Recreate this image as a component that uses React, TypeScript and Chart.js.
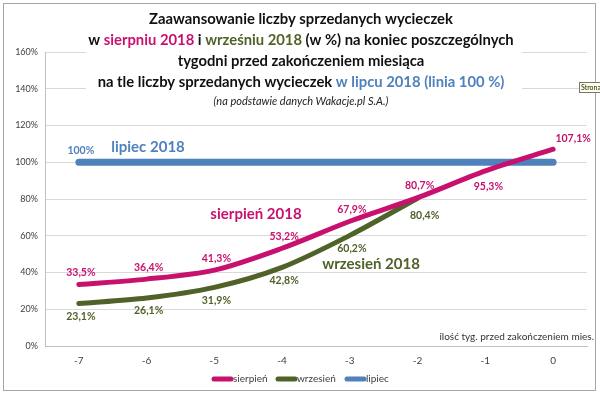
import React, { useEffect, useRef } from "react";
import { Chart, registerables } from "chart.js";

Chart.register(...registerables);

const weeks = ["-7", "-6", "-5", "-4", "-3", "-2", "-1", "0"];
const sierpien = [33.5, 36.4, 41.3, 53.2, 67.9, 80.7, 95.3, 107.1];
const wrzesien = [23.1, 26.1, 31.9, 42.8, 60.2, 80.4, null, null];
const lipiec = [100, 100, 100, 100, 100, 100, 100, 100];
const yTicks = [0, 20, 40, 60, 80, 100, 120, 140, 160];

const MAGENTA = "#C8116F";
const GREEN = "#4F6228";
const BLUE = "#4F81BD";
const FONT = "Lato, 'Open Sans', sans-serif";

const fmt = (v: number) => v.toFixed(1).replace(".", ",") + "%";

const overlay = {
  id: "overlay",
  beforeDraw(chart: any) {
    const ctx = chart.ctx;
    ctx.save();
    ctx.fillStyle = "#fff";
    ctx.fillRect(0, 0, chart.width, chart.height);
    ctx.restore();
  },
  afterDraw(chart: any) {
    const ctx = chart.ctx;
    const xs = chart.scales.x;
    const ys = chart.scales.y;
    ctx.save();
    // title box
    ctx.fillStyle = "#fff";
    ctx.fillRect(86, 5, 436, 108);
    ctx.textBaseline = "middle";
    const drawSegs = (segs: [string, string][], y: number, font: string) => {
      ctx.font = font;
      const total = segs.reduce((a, s) => a + ctx.measureText(s[0]).width, 0);
      let x = 301 - total / 2;
      ctx.textAlign = "left";
      for (const [t, c] of segs) {
        ctx.fillStyle = c;
        ctx.fillText(t, x, y);
        x += ctx.measureText(t).width;
      }
    };
    const tf = `bold 14.8px ${FONT}`;
    drawSegs([["Zaawansowanie liczby sprzedanych wycieczek", "#111"]], 19, tf);
    drawSegs(
      [
        ["w ", "#111"],
        ["sierpniu 2018", MAGENTA],
        [" i ", "#111"],
        ["wrześniu 2018", GREEN],
        [" (w %) na koniec poszczególnych", "#111"],
      ],
      40,
      tf
    );
    drawSegs([["tygodni przed zakończeniem miesiąca", "#111"]], 61, tf);
    drawSegs(
      [
        ["na tle liczby sprzedanych wycieczek ", "#111"],
        ["w lipcu 2018 (linia 100 %)", BLUE],
      ],
      82,
      tf
    );
    drawSegs([["(na podstawie danych Wakacje.pl S.A.)", "#222"]], 101, `italic 11px ${FONT}`);

    // data labels
    ctx.font = `bold 10.5px ${FONT}`;
    ctx.textAlign = "center";
    sierpien.forEach((v, i) => {
      const px = xs.getPixelForValue(i);
      const py = ys.getPixelForValue(v);
      ctx.fillStyle = MAGENTA;
      if (i === 6) ctx.fillText(fmt(v), px + 3, py + 16);
      else if (i === 7) ctx.fillText(fmt(v), px + 20, py - 11);
      else ctx.fillText(fmt(v), px + 2, py - 12);
    });
    wrzesien.forEach((v, i) => {
      if (v == null) return;
      const px = xs.getPixelForValue(i);
      const py = ys.getPixelForValue(v);
      ctx.fillStyle = GREEN;
      if (i === 5) ctx.fillText(fmt(v), px + 7, py + 17);
      else ctx.fillText(fmt(v), px + 2, py + 13);
    });
    // lipiec
    ctx.fillStyle = BLUE;
    ctx.fillText("100%", xs.getPixelForValue(0) + 2, ys.getPixelForValue(100) - 12);
    ctx.font = `bold 15px ${FONT}`;
    ctx.fillText("lipiec 2018", 148, 147);
    ctx.fillStyle = MAGENTA;
    ctx.fillText("sierpień 2018", 256, 214);
    ctx.fillStyle = GREEN;
    ctx.fillText("wrzesień 2018", 371, 264);

    // axis title
    ctx.font = `10px ${FONT}`;
    ctx.fillStyle = "#333";
    ctx.textAlign = "right";
    ctx.fillText("ilość tyg. przed zakończeniem mies.", 594, 337);

    // legend
    const items: [string, string, number][] = [
      ["sierpień", MAGENTA, 214],
      ["wrzesień", GREEN, 278],
      ["lipiec", BLUE, 347],
    ];
    ctx.font = `10px ${FONT}`;
    ctx.textAlign = "left";
    ctx.lineCap = "round";
    for (const [t, c, x] of items) {
      ctx.strokeStyle = c;
      ctx.lineWidth = 5;
      ctx.beginPath();
      ctx.moveTo(x, 379);
      ctx.lineTo(x + 17, 379);
      ctx.stroke();
      ctx.fillStyle = "#404040";
      ctx.fillText(t, x + 19, 379);
    }

    // frame
    ctx.strokeStyle = "#a6a6a6";
    ctx.lineWidth = 1;
    ctx.strokeRect(3.5, 3.5, 592, 387);

    // tooltip artifact
    ctx.fillStyle = "#FFFFE1";
    ctx.fillRect(579, 82, 21, 11);
    ctx.strokeStyle = "#767676";
    ctx.strokeRect(579.5, 82.5, 22, 10);
    ctx.fillStyle = "#222";
    ctx.font = `7px ${FONT}`;
    ctx.fillText("Strona", 581, 88);
    ctx.restore();
  },
};

export default function App() {
  const ref = useRef<HTMLCanvasElement>(null);
  useEffect(() => {
    document.body.style.margin = "0";
    const chart = new Chart(ref.current!, {
      type: "line",
      data: {
        labels: weeks,
        datasets: [
          {
            label: "sierpień",
            data: sierpien,
            borderColor: MAGENTA,
            borderWidth: 5,
            pointRadius: 0,
            tension: 0.3,
            borderCapStyle: "round",
            order: 1,
          },
          {
            label: "wrzesień",
            data: wrzesien as any,
            borderColor: GREEN,
            borderWidth: 5,
            pointRadius: 0,
            tension: 0.3,
            borderCapStyle: "round",
            order: 2,
          },
          {
            label: "lipiec",
            data: lipiec,
            borderColor: BLUE,
            borderWidth: 7,
            pointRadius: 0,
            tension: 0,
            borderCapStyle: "round",
            order: 3,
          },
        ],
      },
      options: {
        responsive: false,
        animation: false,
        layout: { padding: { left: 0, right: 13, top: 52, bottom: 0 } },
        plugins: { legend: { display: false }, title: { display: false }, tooltip: { enabled: false } },
        scales: {
          x: {
            type: "category",
            offset: true,
            grid: { display: false, drawTicks: false },
            border: { display: true, color: "#bfbfbf" },
            ticks: { color: "#404040", font: { family: FONT, size: 10 }, padding: 9 },
            afterFit: (s: any) => {
              s.height = 49;
            },
          },
          y: {
            min: 0,
            max: 160,
            afterBuildTicks: (s: any) => {
              s.ticks = yTicks.map((v) => ({ value: v }));
            },
            grid: { color: "#d9d9d9", drawTicks: false },
            border: { display: true, color: "#bfbfbf" },
            ticks: {
              color: "#404040",
              font: { family: FONT, size: 9 },
              padding: 7,
              callback: (v: any) => v + "%",
            },
            afterFit: (s: any) => {
              s.width = 45;
            },
          },
        },
      },
      plugins: [overlay],
    });
    return () => chart.destroy();
  }, []);
  return <canvas ref={ref} width={600} height={395} style={{ display: "block" }} />;
}
